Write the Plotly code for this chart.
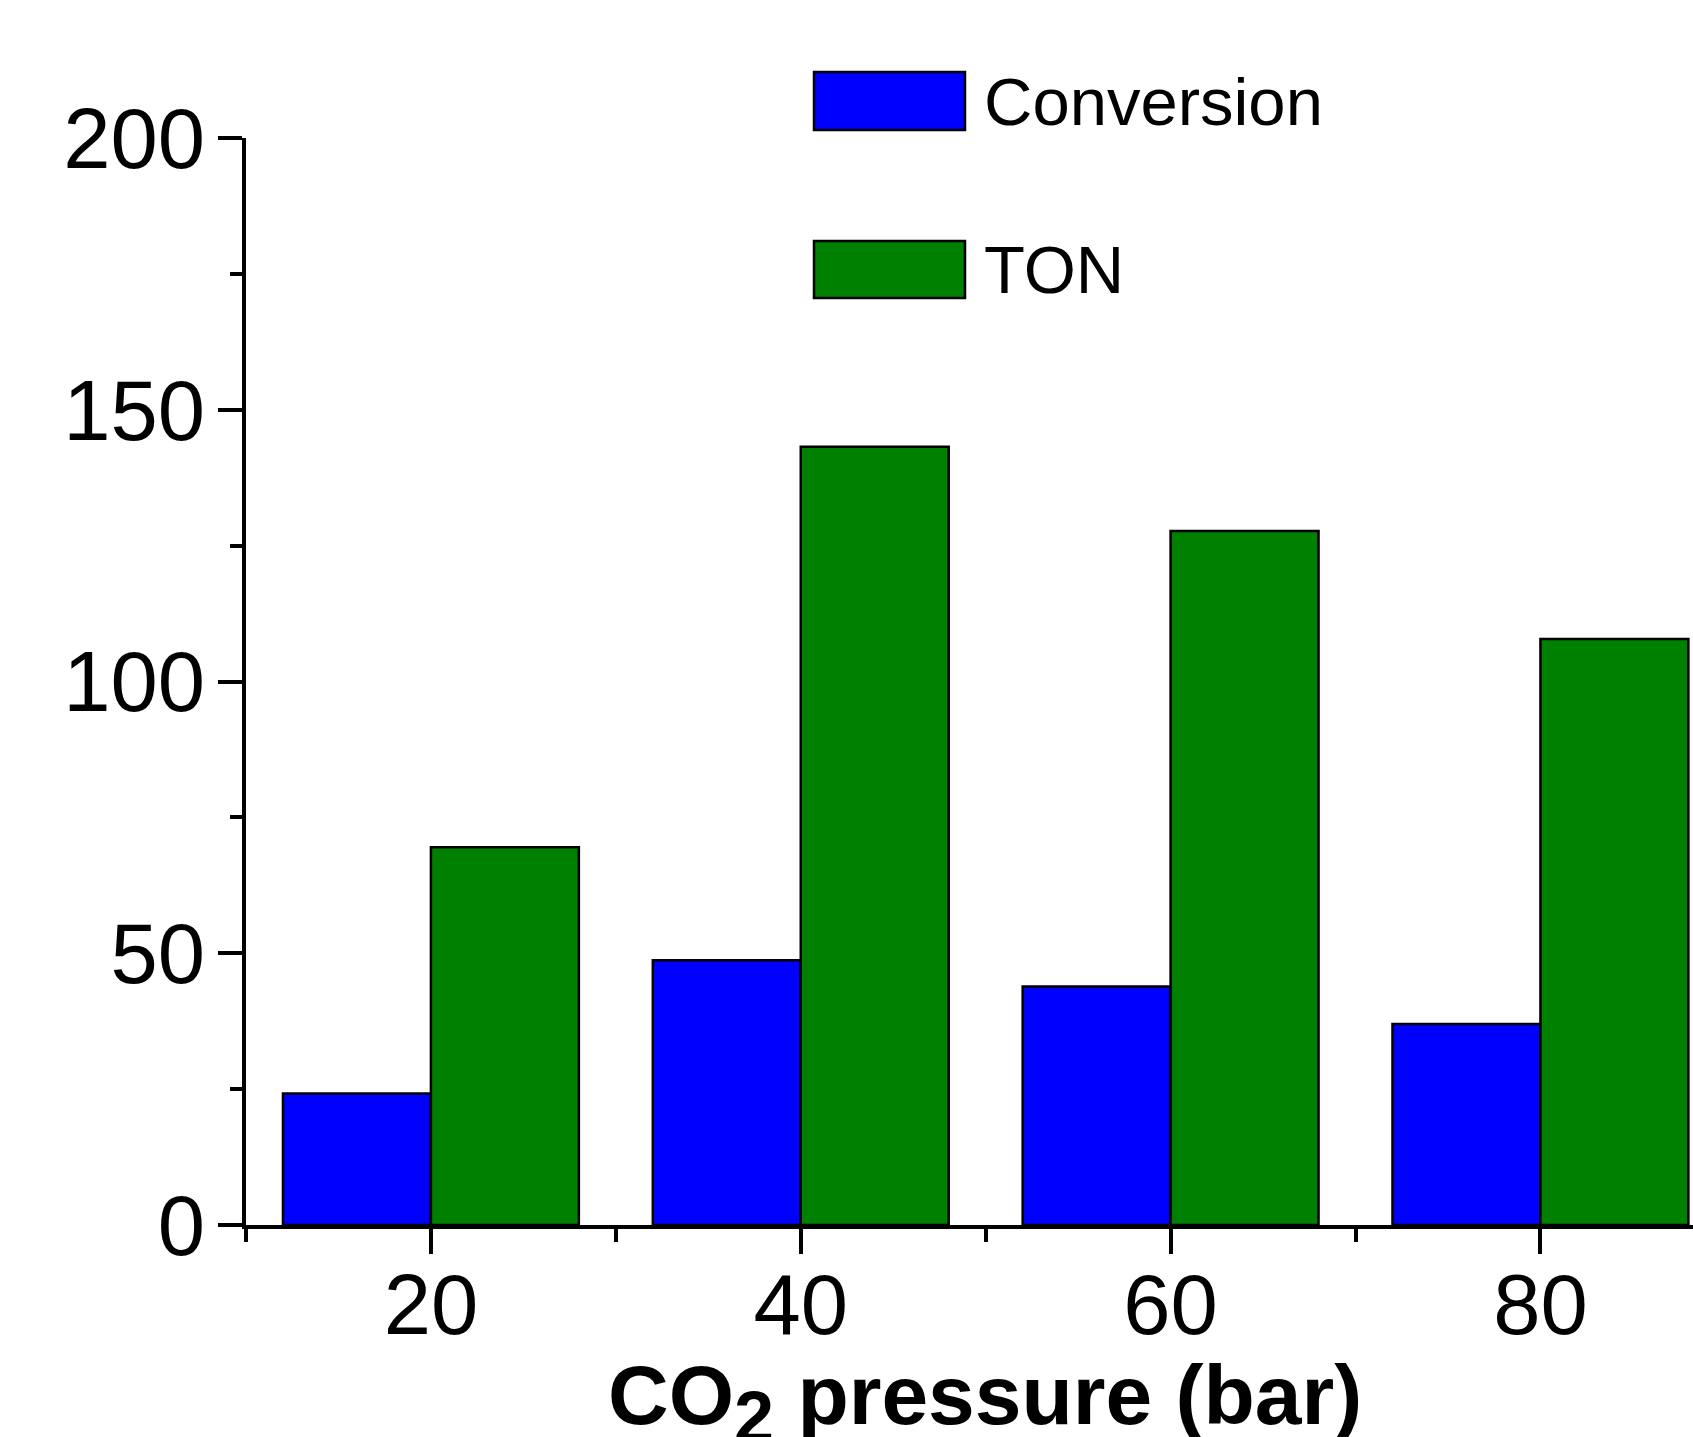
import plotly.graph_objects as go

pressure = [20, 40, 60, 80]
conversion = [24.2, 48.7, 43.9, 37.0]
ton = [69.5, 143.2, 127.7, 107.8]
series_names = ["Conversion", "TON"]
series_colors = ["#0000FF", "#008000"]
x_title = "<b>CO<sub><span style='font-size:72px'>2</span></sub> pressure (bar)</b>"

W, H = 1693, 1437
L, R, T, B = 246, 0, 138, 212

fig = go.Figure()
for name, vals, col in zip(series_names, [conversion, ton], series_colors):
    fig.add_trace(go.Bar(x=pressure, y=vals, name=name,
                         marker=dict(color=col, line=dict(color="black", width=2.5))))

tickfont = dict(family="Liberation Sans, Arial, sans-serif", size=85, color="black")
fig.update_layout(
    width=W, height=H,
    margin=dict(l=L, r=R, t=T, b=B, pad=0),
    paper_bgcolor="white", plot_bgcolor="white",
    barmode="group", bargap=0.2, bargroupgap=0,
    showlegend=False,
    font=dict(family="Liberation Sans, Arial, sans-serif", color="black"),
)
fig.update_xaxes(
    range=[10, 88.25], tickmode="linear", tick0=0, dtick=20,
    showline=True, linecolor="black", linewidth=4, mirror=False,
    ticks="outside", ticklen=25, tickwidth=4, tickcolor="black",
    minor=dict(tick0=10, dtick=20, ticks="outside", ticklen=13, tickwidth=4, tickcolor="black"),
    showgrid=False, zeroline=False, tickfont=tickfont, ticklabelstandoff=-22,
)
fig.update_yaxes(
    range=[0, 200], tickmode="linear", tick0=0, dtick=50,
    showline=True, linecolor="black", linewidth=4, mirror=False,
    ticks="outside", ticklen=24, tickwidth=4, tickcolor="black",
    minor=dict(dtick=25, ticks="outside", ticklen=12, tickwidth=4, tickcolor="black"),
    showgrid=False, zeroline=False, tickfont=tickfont, ticklabelstandoff=-4,
)

pw, ph = W - L - R, H - T - B
def px(x):
    return (x - L) / pw
def py(y):
    return (H - B - y) / ph

# legend drawn manually
leg = [(72, 130), (241, 298)]
for (y0, y1), name, col in zip(leg, series_names, series_colors):
    fig.add_shape(type="rect", xref="paper", yref="paper",
                  x0=px(814), x1=px(965), y0=py(y1), y1=py(y0),
                  fillcolor=col, line=dict(color="black", width=2.5))
    fig.add_annotation(xref="paper", yref="paper", x=px(982), y=py((y0 + y1) / 2),
                       text=name, showarrow=False, xanchor="left", yanchor="middle",
                       font=dict(family="Liberation Sans, Arial, sans-serif", size=67, color="black"))

fig.add_annotation(xref="paper", yref="paper", x=px(985), y=py(1402),
                   text=x_title, showarrow=False, xanchor="center", yanchor="middle",
                   font=dict(family="Liberation Sans, Arial, sans-serif", size=84, color="black"))

fig.write_html("out.html")
